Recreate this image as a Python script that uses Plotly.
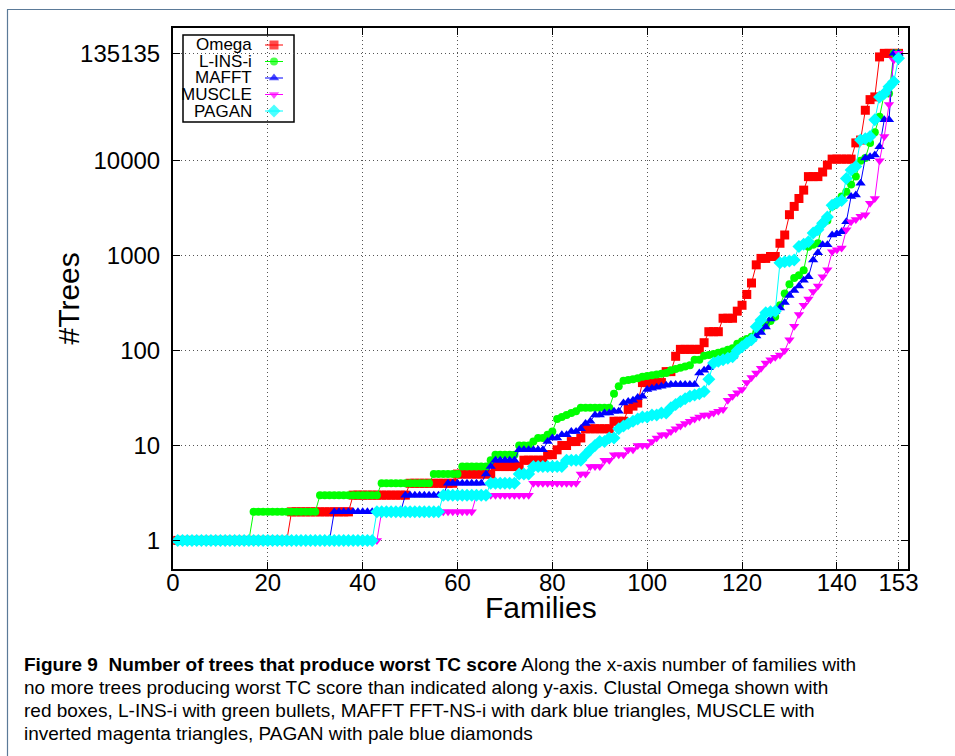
import plotly.graph_objects as go

# ---------------- data ----------------
families = list(range(1, 154))

omega = ([1]*24 + [2]*13 + [3]*12 + [4]*10 + [5]*8 + [6]*6 + [7]*5 + [8]*2 + [9] + [10]*2 + [11]*2 + [12]
         + [15]*6 + [18]*3 + [24, 26, 28] + [46]*5 + [60]*2 + [87] + [103]*5 + [121] + [158]*3 + [219]*3
         + [260, 300, 390, 515, 800, 935, 935, 980, 980, 1350, 1650, 2700, 3300, 4000, 4900]
         + [6800]*3 + [7600, 9000] + [10395]*5 + [15400, 16500, 34000, 44000, 47000, 124000] + [135135]*4)

linsi = ([1]*16 + [2]*14 + [3]*13 + [4]*11 + [5]*6 + [6]*6 + [7] + [8]*5 + [10]*3
         + [11, 12, 12, 13, 14] + [19, 20, 21, 22, 23] + [25]*7
         + [35, 42, 48, 49, 50, 51, 53, 54, 55, 56, 57, 58, 62, 64, 66, 68, 70, 80, 80,
            88, 90, 92, 95, 98, 102, 106, 118, 125, 132, 140, 155, 168, 185, 205, 227,
            300, 400, 500, 580, 620, 700, 1240, 1300, 1350, 2200, 2350, 3300, 3700, 4200,
            4700, 5600, 6800, 10000, 10700, 15400, 20000, 29000, 51000, 51000, 135135, 135135])

mafft = ([1]*33 + [2]*15 + [3]*9 + [4]*8 + [5, 6] + [7]*5 + [9]*6
         + [11, 12, 12, 13, 13, 14, 14, 15, 17, 18, 21, 21, 22, 22, 23, 23, 28, 29, 30, 32, 33,
            39, 40, 41, 42, 43] + [44]*6
         + [58, 62, 66, 74, 77, 80, 83, 86, 100, 110, 120, 130, 142, 155, 177, 215, 256,
            280, 320, 380, 430, 480, 550, 600, 900, 1070, 1300, 1300, 1650, 1700, 1780, 2280,
            4200, 4350, 5800, 10700, 11000, 11500, 14000, 27000, 27000, 135135, 135135])

muscle = ([1]*43 + [2]*20 + [3]*12 + [4]*10 + [5]*2 + [6]*3 + [7]*2 + [8]*3
          + [9, 9, 10, 10, 10, 11, 12, 13, 13, 14, 15, 16, 17, 18, 19, 20, 21, 21, 22, 23, 24,
             30, 33, 36, 39, 46, 52, 58, 65, 74, 80, 85, 90, 100, 130, 180, 240, 300, 350,
             420, 480, 600, 710, 1100, 1150, 1200, 1870, 2280, 2400, 2600, 2700, 3560, 4000,
             10000, 18000, 39000, 115000, 135135])

pagan = ([1]*42 + [2]*14 + [3]*10 + [4]*6 + [5]*3 + [6]*7 + [7]*4
         + [8, 9, 10, 11, 11, 12, 12, 15, 16, 17, 18, 19, 20, 20, 21, 21, 22, 22, 25, 27, 29,
            31, 33, 34, 35, 37, 50, 74, 77, 80, 83, 86, 100, 110, 120, 130, 178, 210, 250,
            257, 260, 840, 860, 880, 900, 1250, 1320, 1400, 1730, 1870, 2200, 2550, 3400,
            3600, 3800, 6500, 8000, 8700, 16500, 17000, 18000, 27000, 47000, 51000, 60000,
            68000, 120000])

series_names = ["Omega", "L-INS-i", "MAFFT", "MUSCLE", "PAGAN"]
series_values = [omega, linsi, mafft, muscle, pagan]
series_colors = ["#ff0000", "#00ff00", "#0000ff", "#ff00ff", "#00ffff"]
series_symbols = ["square", "circle", "triangle-up", "triangle-down", "diamond"]
series_sizes = [9, 8, 9, 9, 10]

x_ticks = [0, 20, 40, 60, 80, 100, 120, 140, 153]
y_ticks = [1, 10, 100, 1000, 10000, 135135]
y_tick_text = ["1", "10", "100", "1000", "10000", "135135"]

caption_lines = [
    "<b>Figure 9  Number of trees that produce worst TC score</b> Along the x-axis number of families with",
    "no more trees producing worst TC score than indicated along y-axis. Clustal Omega shown with",
    "red boxes, L-INS-i with green bullets, MAFFT FFT-NS-i with dark blue triangles, MUSCLE with",
    "inverted magenta triangles, PAGAN with pale blue diamonds",
]

for v in series_values:
    assert len(v) == len(families)

# ---------------- geometry (pixels) ----------------
W, H = 955, 756
L, R, T, B = 173, 908, 28, 569
PW, PH = R - L, B - T


def px(xp):
    return (xp - L) / PW


def py(yp):
    return (B - yp) / PH


FONT = "Liberation Sans, Arial, sans-serif"

fig = go.Figure()

for name, vals, col, sym, sz in zip(series_names, series_values, series_colors, series_symbols, series_sizes):
    fig.add_trace(go.Scatter(
        x=families, y=vals, mode="lines+markers", name=name,
        line=dict(color=col, width=1),
        marker=dict(symbol=sym, size=sz, color=col, line=dict(width=0)),
        showlegend=False,
    ))

# legend samples on an overlay axis measured in pixels
leg_rows = [45, 61.5, 78, 94.5, 111]
for name, col, sym, sz, yy in zip(series_names, series_colors, series_symbols, series_sizes, leg_rows):
    fig.add_trace(go.Scatter(
        x=[265, 274, 283], y=[yy, yy, yy], mode="lines+markers",
        line=dict(color=col, width=1),
        marker=dict(symbol=sym, size=[0, sz, 0], color=col, line=dict(width=0)),
        xaxis="x2", yaxis="y2", showlegend=False, hoverinfo="skip",
    ))

annotations = []
for name, yy in zip(series_names, leg_rows):
    annotations.append(dict(
        text=name, x=px(254), y=py(yy), xref="paper", yref="paper",
        xanchor="right", yanchor="middle", showarrow=False,
        font=dict(family=FONT, size=17, color="black"),
    ))

annotations.append(dict(
    text="Families", x=0.5, y=py(607), xref="paper", yref="paper",
    xanchor="center", yanchor="middle", showarrow=False,
    font=dict(family=FONT, size=30, color="black"),
))
annotations.append(dict(
    text="#Trees", x=px(68), y=0.5, xref="paper", yref="paper", textangle=-90,
    xanchor="center", yanchor="middle", showarrow=False,
    font=dict(family=FONT, size=30, color="black"),
))

cap_y = [664, 687, 710, 733]
for line, yy in zip(caption_lines, cap_y):
    annotations.append(dict(
        text=line, x=px(22), y=py(yy), xref="paper", yref="paper",
        xanchor="left", yanchor="middle", showarrow=False,
        font=dict(family=FONT, size=19, color="black"),
    ))

shapes = [
    # legend box
    dict(type="rect", xref="paper", yref="paper",
         x0=px(183), x1=px(294), y0=py(122), y1=py(35),
         line=dict(color="black", width=1.5), fillcolor="white", layer="between"),
    # page border (top and left)
    dict(type="line", xref="paper", yref="paper",
         x0=px(7), x1=px(955), y0=py(9.5), y1=py(9.5),
         line=dict(color="#5b7a98", width=1.2)),
    dict(type="line", xref="paper", yref="paper",
         x0=px(7.5), x1=px(7.5), y0=py(9.5), y1=py(760),
         line=dict(color="#5b7a98", width=1.2)),
]

axis_common = dict(
    showline=True, linecolor="black", linewidth=2, mirror="ticks",
    ticks="inside", ticklen=7, tickwidth=1, tickcolor="black",
    showgrid=True, gridcolor="#555555", gridwidth=1, griddash="1px,3px",
    zeroline=False, tickfont=dict(family=FONT, size=24, color="black"),
)

fig.update_layout(
    width=W, height=H,
    margin=dict(l=L, r=W - R, t=T, b=H - B, pad=0),
    paper_bgcolor="white", plot_bgcolor="white",
    showlegend=False,
    xaxis=dict(range=[0, 155], tickvals=x_ticks, ticktext=[str(t) for t in x_ticks],
               ticklabelstandoff=-9, **axis_common),
    yaxis=dict(type="log", range=[-0.30103, 5.39794], tickvals=y_ticks, ticktext=y_tick_text,
               ticklabelstandoff=6, **axis_common),
    xaxis2=dict(range=[L, R], overlaying="x", visible=False, fixedrange=True),
    yaxis2=dict(range=[B, T], overlaying="y", visible=False, fixedrange=True),
    annotations=annotations,
    shapes=shapes,
)

fig.write_html("out.html")
